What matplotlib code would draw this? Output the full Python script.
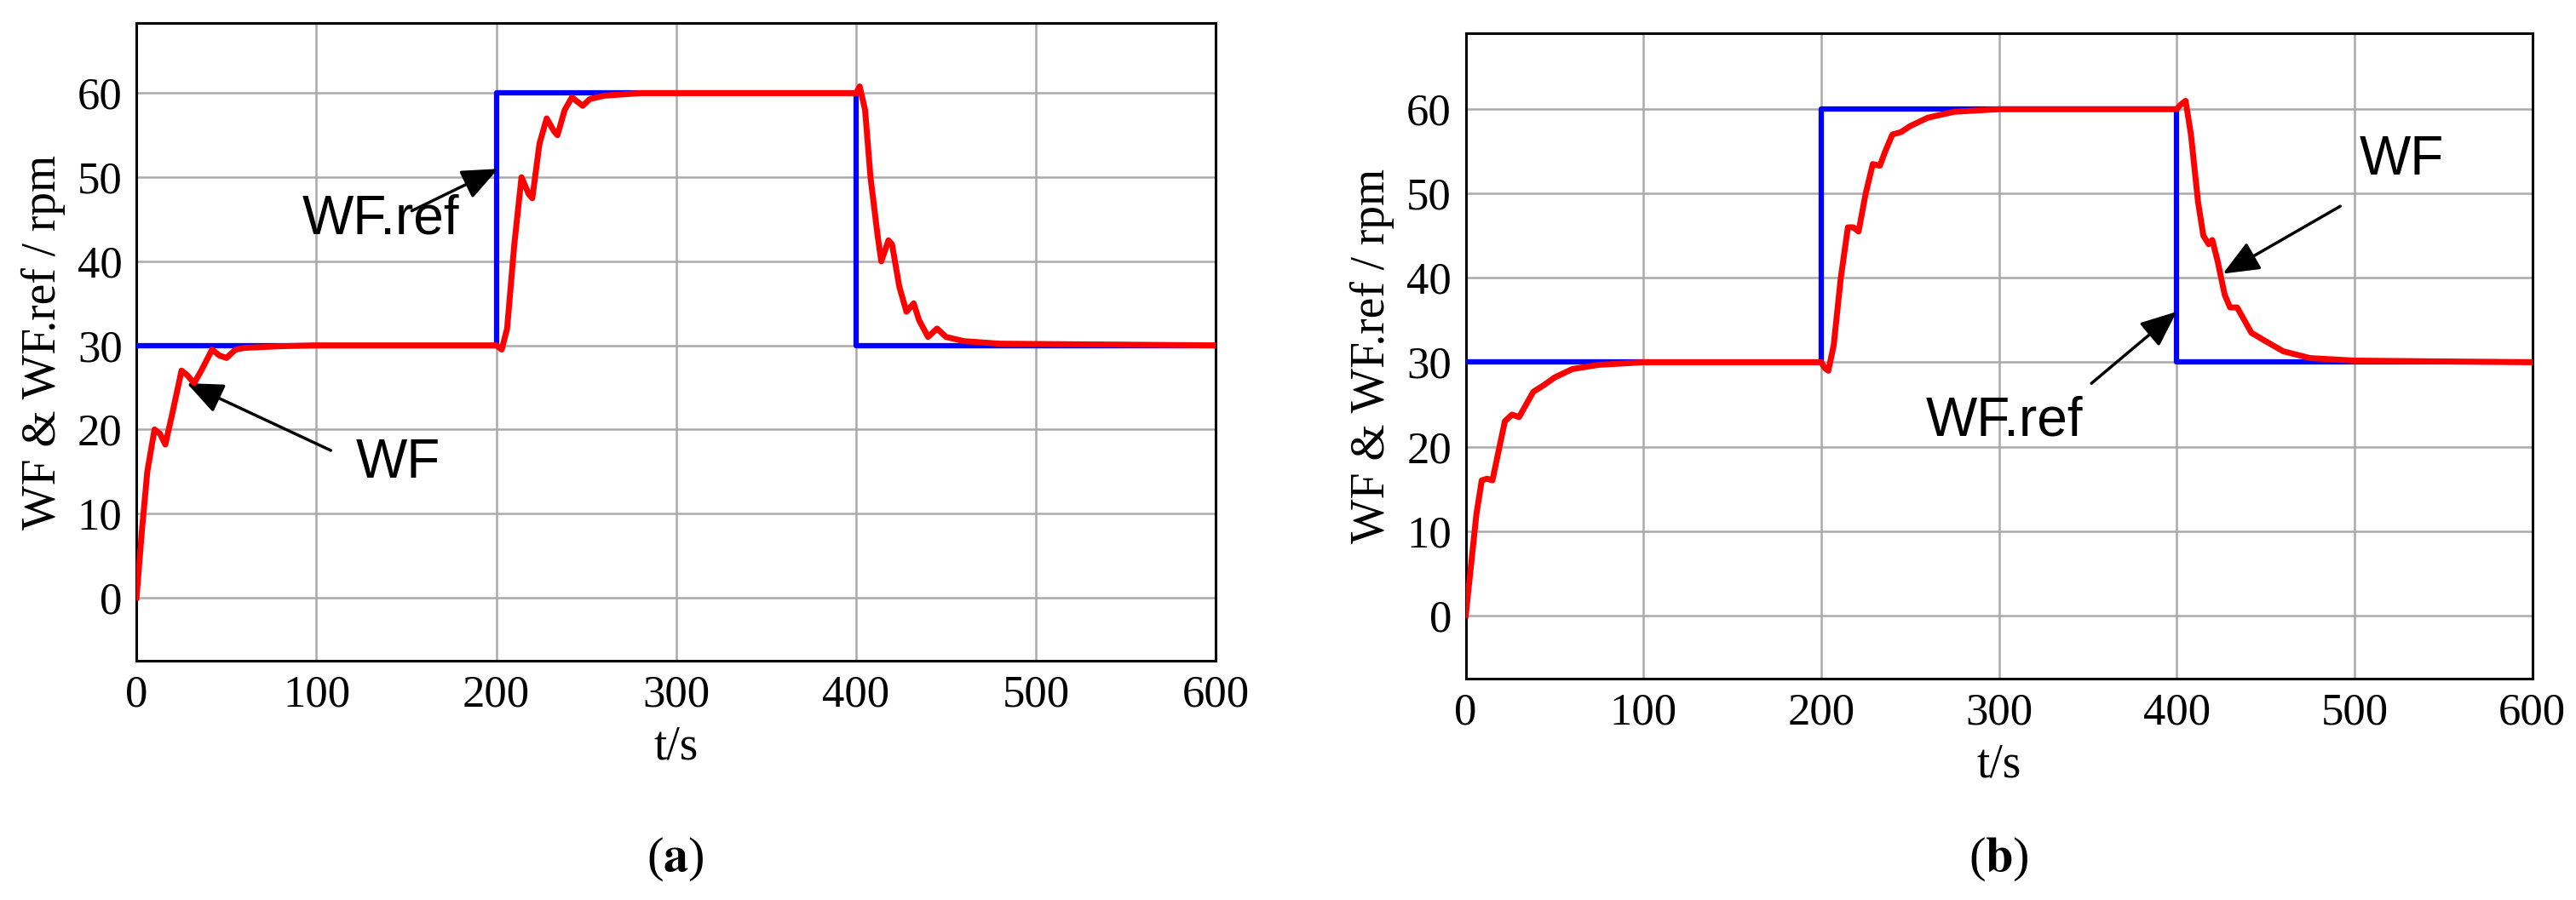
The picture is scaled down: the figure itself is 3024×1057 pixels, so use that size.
import numpy as np
import matplotlib.pyplot as plt

plt.rcParams['mathtext.fontset'] = 'stix'

# =========================
# Data
# =========================
ref_t = [0, 200, 200, 400, 400, 600]
ref_v = [30, 30, 60, 60, 30, 30]

wf_a_t = [0, 3, 6, 10, 13, 16, 20, 25, 28, 32, 36, 42, 46, 50, 55, 60, 80, 100,
          200, 203, 206, 210, 214, 218, 220, 224, 228, 232, 234, 238, 242, 248,
          252, 260, 280, 400, 402, 405, 408, 412, 414, 418, 420, 424, 428, 432,
          435, 440, 445, 450, 460, 480, 600]
wf_a_v = [0, 8, 15, 20, 19.5, 18.2, 22, 27, 26.5, 25.5, 27, 29.5, 28.8, 28.5,
          29.5, 29.7, 29.9, 30, 30, 29.5, 32, 42, 50, 48, 47.5, 54, 57, 55.5, 55,
          58, 59.5, 58.5, 59.3, 59.7, 60, 60, 60.8, 58, 50, 43, 40, 42.5, 42, 37,
          34, 35, 33, 31, 32, 31, 30.5, 30.2, 30]

wf_b_t = [0, 3, 6, 9, 12, 15, 18, 22, 26, 30, 34, 38, 44, 50, 60, 75, 100, 200,
          202, 204, 207, 211, 215, 218, 221, 225, 229, 233, 236, 240, 245, 250,
          260, 275, 300, 400, 402, 405, 408, 412, 415, 418, 420, 423, 427, 430,
          434, 438, 442, 450, 460, 475, 500, 600]
wf_b_v = [0, 6, 12, 16, 16.2, 16, 19, 23, 23.8, 23.5, 25, 26.5, 27.3, 28.2,
          29.2, 29.7, 30, 30, 29.3, 29, 32, 40, 46, 46, 45.5, 50, 53.5, 53.3, 55,
          57, 57.3, 58, 59, 59.7, 60, 60, 60.5, 61, 57, 49, 45, 44, 44.5, 42, 38,
          36.5, 36.5, 35, 33.5, 32.5, 31.3, 30.5, 30.2, 30]

x_ticks = [0, 100, 200, 300, 400, 500, 600]
y_ticks = [0, 10, 20, 30, 40, 50, 60]

fig = plt.figure(figsize=(30.24, 10.57), dpi=100)
ax_a = fig.add_axes([0.053, 0.266, 0.419, 0.708])
ax_b = fig.add_axes([0.569, 0.246, 0.414, 0.717])

arrow = dict(arrowstyle="-|>,head_length=2.6,head_width=1.1", color="black",
             lw=2.5, shrinkA=0, shrinkB=0)

for ax, wt, wv, ymax in [(ax_a, wf_a_t, wf_a_v, 68.3), (ax_b, wf_b_t, wf_b_v, 69)]:
    ax.plot(ref_t, ref_v, color="blue", lw=4.5, zorder=3)
    ax.plot(wt, wv, color="red", lw=5, zorder=4)
    ax.set_xlim(0, 600)
    ax.set_ylim(-7.5, ymax)
    ax.set_xticks(x_ticks)
    ax.set_yticks(y_ticks)
    ax.grid(True, color="#aaaaaa", lw=1.8)
    ax.tick_params(labelsize=38, length=0, pad=12)
    for lab in ax.get_xticklabels() + ax.get_yticklabels():
        lab.set_family("Liberation Serif")
    for s in ax.spines.values():
        s.set_linewidth(2.2)
    ax.set_xlabel("t/s", family="Liberation Serif", fontsize=40, labelpad=8)
    ax.set_ylabel("WF & WF.ref / rpm", family="Liberation Serif", fontsize=40,
                  labelpad=10)

# annotations (a)
ax_a.annotate("", xy=(201, 51), xytext=(153, 46), arrowprops=arrow)
ax_a.text(92, 45, "WF.ref", fontsize=46, family="Liberation Sans", va="center")
ax_a.annotate("", xy=(28, 25.5), xytext=(108, 17.5), arrowprops=arrow)
ax_a.text(122, 16, "WF", fontsize=46, family="Liberation Sans", va="center")

# annotations (b)
ax_b.annotate("", xy=(426, 40.5), xytext=(492, 48.5), arrowprops=arrow)
ax_b.text(503, 54, "WF", fontsize=46, family="Liberation Sans", va="center")
ax_b.annotate("", xy=(400, 36), xytext=(352, 27.5), arrowprops=arrow)
ax_b.text(259, 23, "WF.ref", fontsize=46, family="Liberation Sans", va="center")

fig.text(0.262, 0.045, r"($\mathbf{a}$)", fontsize=42, family="Liberation Serif",
         ha="center", va="center")
fig.text(0.776, 0.045, r"($\mathbf{b}$)", fontsize=42, family="Liberation Serif",
         ha="center", va="center")

fig.savefig("out.png", dpi=100)
